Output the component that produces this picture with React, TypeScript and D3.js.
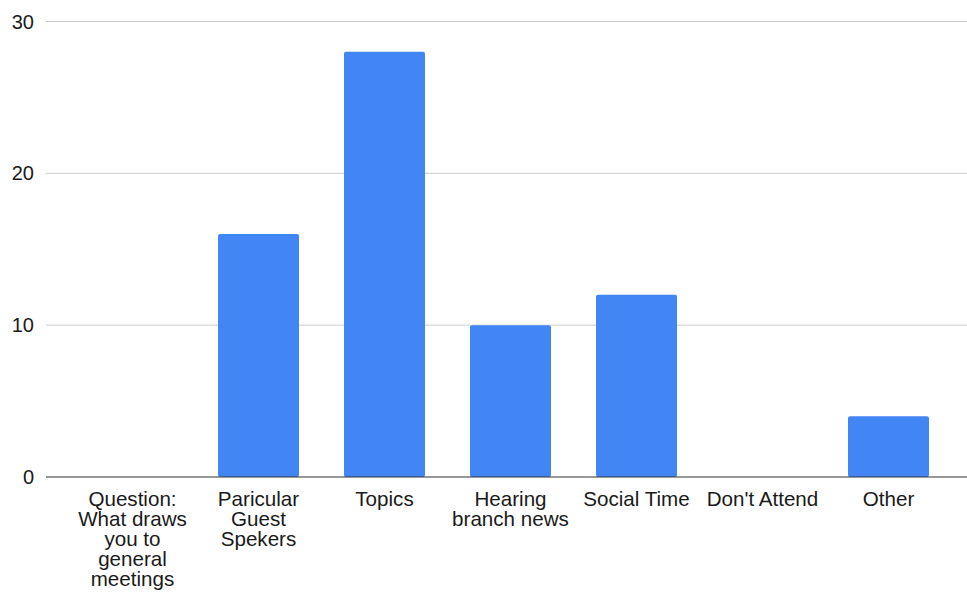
import React from "react";
import * as d3 from "d3";

const categories = [
  "Question:\nWhat draws\nyou to\ngeneral\nmeetings",
  "Paricular\nGuest\nSpekers",
  "Topics",
  "Hearing\nbranch news",
  "Social Time",
  "Don't Attend",
  "Other",
];
const values = [0, 16, 28, 10, 12, 0, 4];
const yTicks = [0, 10, 20, 30];

const W = 967;
const H = 593;
const FONT = "Arial, 'Liberation Sans', Helvetica, sans-serif";

export default function App() {
  const x = d3
    .scaleBand<string>()
    .domain(categories)
    .range([69.5, 951.5])
    .paddingInner(0.357)
    .paddingOuter(0.1785);
  const y = d3.scaleLinear().domain([0, 30]).range([477, 21.5]);

  return (
    <svg
      width={W}
      height={H}
      style={{ position: "absolute", left: 0, top: 0, background: "#fff", fontFamily: FONT }}
    >
      {yTicks.map((t) => (
        <g key={t}>
          {t !== 0 && (
            <line x1={46} x2={W} y1={y(t)} y2={y(t)} stroke="#cccccc" strokeWidth={1} />
          )}
          <text x={34} y={y(t)} dy="0.35em" textAnchor="end" fontSize={20} fill="#1a1a1a">
            {t}
          </text>
        </g>
      ))}
      {categories.map((c, i) =>
        values[i] > 0 ? (
          <rect
            key={c}
            x={x(c)}
            y={y(values[i])}
            width={x.bandwidth()}
            height={y(0) - y(values[i])}
            rx={2}
            fill="#4285f4"
          />
        ) : null
      )}
      <line x1={46} x2={W} y1={y(0)} y2={y(0)} stroke="#333" strokeWidth={1.2} />
      {categories.map((c) => {
        const cx = (x(c) as number) + x.bandwidth() / 2;
        return (
          <text key={c} x={cx} y={505.5} textAnchor="middle" fontSize={20.6} fill="#1a1a1a">
            {c.split("\n").map((line, j) => (
              <tspan key={j} x={cx} dy={j === 0 ? 0 : 20}>
                {line}
              </tspan>
            ))}
          </text>
        );
      })}
    </svg>
  );
}
